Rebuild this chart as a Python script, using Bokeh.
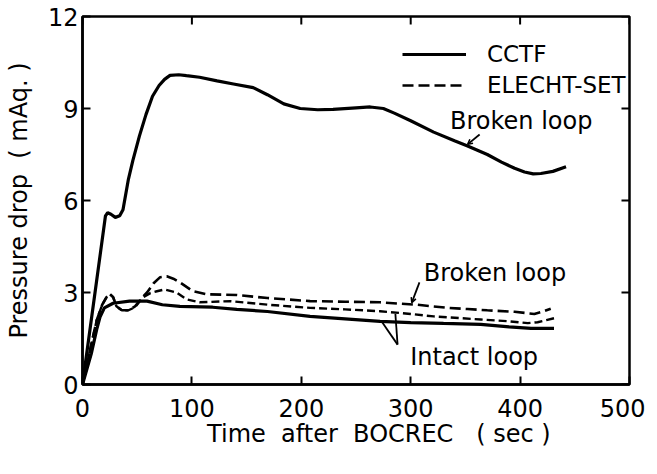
import math
from bokeh.plotting import figure
from bokeh.models import (Range1d, FixedTicker, Legend, LegendItem,
                          Label, Arrow, OpenHead)
from bokeh.embed import file_html
from bokeh.resources import INLINE

# ---- data ----
X_TICKS = [0, 100, 200, 300, 400, 500]
Y_TICKS = [0, 3, 6, 9, 12]

cctf_broken_t = [0, 21, 23, 26, 30, 34, 37, 42, 46, 52, 58, 64, 70, 75, 80, 88,
                 95, 107, 123, 138, 156, 169, 184, 199, 215, 229, 250, 263, 275,
                 285, 300, 321, 340, 352, 370, 383, 395, 404, 412, 419, 430, 442]
cctf_broken_p = [0, 5.5, 5.6, 5.55, 5.45, 5.5, 5.7, 6.7, 7.3, 8.1, 8.8, 9.4, 9.75,
                 9.95, 10.08, 10.1, 10.07, 10.02, 9.9, 9.8, 9.68, 9.45, 9.15, 9.0,
                 8.96, 8.97, 9.02, 9.05, 9.0, 8.85, 8.6, 8.23, 7.95, 7.78, 7.5,
                 7.25, 7.05, 6.93, 6.87, 6.88, 6.95, 7.1]

cctf_intact_t = [0, 8, 13, 16, 20, 28, 43, 59, 73, 89, 119, 141, 169, 208, 240,
                 272, 300, 330, 364, 390, 410, 431]
cctf_intact_p = [0, 1.0, 1.8, 2.2, 2.5, 2.65, 2.72, 2.72, 2.6, 2.55, 2.52, 2.45,
                 2.38, 2.22, 2.14, 2.06, 2.02, 1.99, 1.96, 1.88, 1.83, 1.83]

elecht_broken_t = [0, 8, 13, 18, 22, 25, 28, 31, 36, 42, 48, 55, 59, 65, 71, 77,
                   83, 89, 101, 114, 141, 169, 208, 240, 272, 306, 334, 352, 370,
                   395, 413, 421, 428]
elecht_broken_p = [0, 1.3, 2.1, 2.6, 2.85, 2.95, 2.85, 2.55, 2.42, 2.42, 2.55,
                   2.85, 3.0, 3.3, 3.5, 3.53, 3.45, 3.33, 3.04, 2.94, 2.92, 2.82,
                   2.72, 2.7, 2.68, 2.6, 2.5, 2.46, 2.42, 2.37, 2.3, 2.38, 2.47]

elecht_intact_t = [0, 8, 13, 18, 22, 25, 28, 31, 36, 42, 48, 55, 62, 68, 75, 86,
                   95, 107, 135, 170, 208, 240, 272, 300, 321, 364, 390, 407,
                   416, 424, 431]
elecht_intact_p = [0, 1.3, 2.1, 2.6, 2.85, 2.95, 2.85, 2.55, 2.42, 2.42, 2.52,
                   2.84, 2.98, 3.04, 3.1, 3.0, 2.78, 2.68, 2.72, 2.6, 2.5, 2.45,
                   2.39, 2.3, 2.22, 2.12, 2.06, 2.0, 2.03, 2.1, 2.16]

# annotation texts and their anchors (data units)
NOTE_TEXT = ["Broken loop", "Broken loop", "Intact loop"]
NOTE_X = [401, 377, 358]
NOTE_Y = [8.58, 3.62, 0.91]
# pointer lines: (x_start, y_start, x_end, y_end)
POINTERS = [(363, 8.15, 352, 7.83), (308, 3.33, 301, 2.67),
            (288, 1.30, 273, 2.08), (288, 1.30, 286, 2.30)]

FONT = "DejaVu Sans"
X_MAX, Y_MAX = 500, 12
SP = "\u00a0"

p = figure(width=645, height=466, output_backend="svg", toolbar_location=None,
           x_range=Range1d(0, X_MAX), y_range=Range1d(0, Y_MAX),
           min_border_left=82, min_border_right=16, min_border_top=16,
           min_border_bottom=82)
p.grid.visible = False
p.background_fill_color = "white"
p.border_fill_color = "white"
p.outline_line_color = "black"
p.outline_line_width = 2.5
p.outline_line_alpha = 1.0

p.xaxis.ticker = FixedTicker(ticks=X_TICKS)
p.yaxis.ticker = FixedTicker(ticks=Y_TICKS)
p.xaxis.axis_label = (SP * 6 + "Time" + SP * 2 + "after" + SP * 2 + "BOCREC"
                      + SP * 3 + "(" + SP + "sec" + SP + ")")
p.yaxis.axis_label = "Pressure" + SP + "drop" + SP * 2 + "(" + SP + "mAq." + SP + ")"

for ax in (p.xaxis[0], p.yaxis[0]):
    ax.axis_line_width = 2.5
    ax.major_tick_in = 8
    ax.major_tick_out = 0
    ax.major_tick_line_width = 2
    ax.minor_tick_line_color = None
    ax.major_label_text_font = FONT
    ax.major_label_text_font_size = "24px"
    ax.major_label_text_color = "black"
    ax.axis_label_text_font = FONT
    ax.axis_label_text_font_size = "24px"
    ax.axis_label_text_font_style = "normal"
    ax.axis_label_text_color = "black"

p.xaxis.major_label_standoff = 14
p.xaxis.axis_label_standoff = 0
p.yaxis.major_label_standoff = 4
p.yaxis.axis_label_standoff = 12

# inward ticks on the top and right frame edges
p.ray(x=X_TICKS, y=[Y_MAX] * len(X_TICKS), length=8, length_units="screen",
      angle=-math.pi / 2, line_color="black", line_width=2)
p.ray(x=[X_MAX] * len(Y_TICKS), y=Y_TICKS, length=8, length_units="screen",
      angle=math.pi, line_color="black", line_width=2)

r_cb = p.line(cctf_broken_t, cctf_broken_p, line_color="black", line_width=3.2)
r_ci = p.line(cctf_intact_t, cctf_intact_p, line_color="black", line_width=3.2)
r_eb = p.line(elecht_broken_t, elecht_broken_p, line_color="black",
              line_width=2.6, line_dash="11 5")
r_ei = p.line(elecht_intact_t, elecht_intact_p, line_color="black",
              line_width=2.4, line_dash="8 4")

legend = Legend(items=[LegendItem(label="CCTF", renderers=[r_cb]),
                       LegendItem(label="ELECHT-SET", renderers=[r_eb])],
                location=(320, 286), border_line_color=None,
                background_fill_alpha=0, padding=0, margin=0, spacing=5,
                glyph_width=64, glyph_height=20, label_standoff=21,
                label_text_font=FONT, label_text_font_size="23px",
                label_text_color="black")
p.add_layout(legend)

for t, x, y in zip(NOTE_TEXT, NOTE_X, NOTE_Y):
    p.add_layout(Label(x=x, y=y, text=t, text_font=FONT, text_font_size="24px",
                       text_align="center", text_baseline="middle",
                       text_color="black"))

for i, (xs, ys, xe, ye) in enumerate(POINTERS):
    head = OpenHead(size=5, line_width=1.5) if i < 2 else None
    p.add_layout(Arrow(end=head, x_start=xs, y_start=ys, x_end=xe, y_end=ye,
                       line_width=1.8, line_color="black"))

open("out.html", "w").write(file_html(p, INLINE))
